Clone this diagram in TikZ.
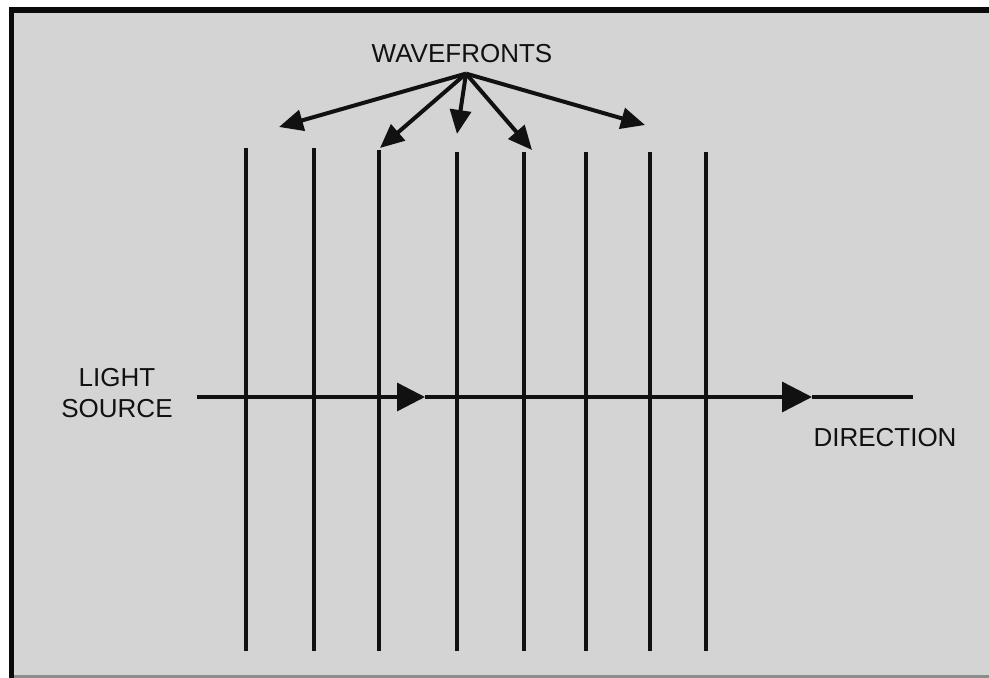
\documentclass[tikz,border=0pt]{standalone}
\usepackage{fontspec}
\setmainfont{Liberation Sans}
\usepackage{tikz}
\usetikzlibrary{arrows.meta}
\definecolor{panelGrey}{HTML}{D4D4D4}
\definecolor{frameBlack}{HTML}{0A0A0A}
\definecolor{edgeGrey}{HTML}{8C8C8C}
\definecolor{inkBlack}{HTML}{111111}

\tikzset{
  wavefront/.style={draw=inkBlack, line width=1.7pt},
  pointer/.style={draw=inkBlack, line width=2pt, -{Triangle[length=12pt,width=10.5pt]}},
  ray/.style={draw=inkBlack, line width=1.7pt},
  caption/.style={inner sep=0pt, text=inkBlack, font=\fontsize{13}{15.5}\selectfont}
}

\begin{document}
\begin{tikzpicture}[x=0.5pt, y=-0.5pt]
  % panel and frame
  \fill[white] (0,0) rectangle (989,678);
  \useasboundingbox (0,0) rectangle (989,678);
  \fill[panelGrey] (9,7) rectangle (989,678);
  \draw[edgeGrey, line width=1.2pt] (14,676.5) -- (989,676.5);
  \fill[frameBlack] (9,7) rectangle (989,13);
  \fill[frameBlack] (9,7) rectangle (14,678);

  % wavefronts
  \foreach \n/\x/\top in {1/246/148, 2/314/148, 3/379/150, 4/457/152, 5/524/152, 6/586/152, 7/650/152, 8/706/152} {
    \coordinate (wt\n) at (\x,\top);
    \coordinate (wb\n) at (\x,651);
    \draw[wavefront] (wt\n) -- (wb\n);
  }

  % ray from the source
  \coordinate (src) at (197,397);
  \coordinate (mid) at (425,397);
  \coordinate (head) at (812,397);
  \coordinate (rayend) at (913,397);
  \draw[ray, -{Triangle[length=14pt,width=14pt]}] (src) -- (mid);
  \draw[ray, -{Triangle[length=15pt,width=15pt]}] (mid) -- (head);
  \draw[ray] (head) -- (rayend);

  % labels
  \node[caption] (wave) at (462,54) {WAVEFRONTS};
  \node[caption, align=center] (light) at (117,393) {LIGHT\\SOURCE};
  \node[caption] (dir) at (885,438) {DIRECTION};

  % pointers to the wavefronts
  \coordinate (fan) at ([xshift=2pt, yshift=-5pt]wave.south);
  \foreach \n/\x/\y in {1/279/127, 2/380/148, 3/457/134, 4/532/150, 5/645/125} {
    \coordinate (p\n) at (\x,\y);
    \draw[pointer] (fan) -- (p\n);
  }
\end{tikzpicture}
\end{document}
